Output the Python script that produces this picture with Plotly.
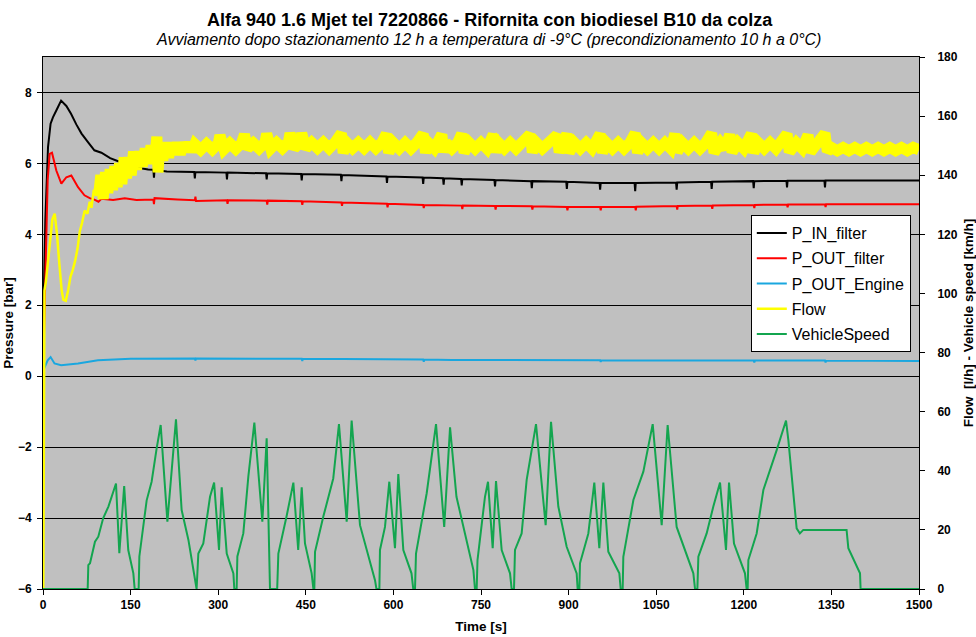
import plotly.graph_objects as go

FONT = "Liberation Sans, Arial, sans-serif"

# ---------------- data (time [s], value) ----------------
p_in_filter = [(0, 0), (1, 2.0), (4, 4.4), (8.6, 6.46), (13, 7.12), (17, 7.3), (23, 7.5), (31, 7.77),
               (40, 7.62), (48, 7.4), (57, 7.1), (66, 6.84), (77, 6.6), (88, 6.37), (100, 6.3),
               (115, 6.15), (132, 6.04), (155, 5.9), (180, 5.83), (189, 5.82), (190, 5.6), (191, 5.82),
               (212, 5.77), (259, 5.76), (260, 5.58), (261, 5.76), (314, 5.74), (315, 5.55), (316, 5.74),
               (382, 5.72), (383, 5.55), (384, 5.72), (442, 5.70), (443, 5.52), (444, 5.70),
               (510, 5.68), (511, 5.50), (512, 5.67), (588, 5.63), (589, 5.45), (590, 5.63),
               (650, 5.60), (651, 5.42), (652, 5.60), (685, 5.58), (686, 5.40), (687, 5.58),
               (716, 5.56), (717, 5.38), (718, 5.56), (773, 5.53), (774, 5.35), (775, 5.53),
               (836, 5.50), (837, 5.30), (838, 5.50), (896, 5.48), (897, 5.28), (898, 5.48),
               (953, 5.45), (954, 5.26), (955, 5.45), (1013, 5.45), (1014, 5.22), (1015, 5.45),
               (1084, 5.46), (1085, 5.26), (1086, 5.46), (1144, 5.48), (1145, 5.28), (1146, 5.48),
               (1216, 5.50), (1217, 5.30), (1218, 5.50), (1273, 5.51), (1274, 5.32), (1275, 5.51),
               (1338, 5.52), (1339, 5.32), (1340, 5.52), (1500, 5.52)]

p_out_filter = [(0, 0), (3.4, 2.5), (8, 5.52), (11.4, 6.27), (15.4, 6.3), (22.8, 5.8), (31.4, 5.43),
                (40, 5.61), (48.5, 5.66), (60, 5.33), (71, 5.1), (80, 5.02), (88, 4.98), (95, 4.92),
                (100, 5.0), (120, 4.97), (140, 5.02), (160, 4.97), (189, 4.98), (190, 4.85), (191, 5.02),
                (230, 4.98), (260, 4.96), (261, 5.06), (262, 4.94), (315, 4.96), (316, 4.86), (317, 4.96),
                (350, 4.95), (383, 4.95), (384, 4.84), (385, 4.95), (443, 4.93), (444, 4.83), (445, 4.93),
                (511, 4.90), (512, 4.80), (513, 4.90), (589, 4.86), (590, 4.76), (591, 4.86),
                (651, 4.83), (652, 4.74), (653, 4.83), (717, 4.81), (718, 4.71), (719, 4.81),
                (774, 4.80), (775, 4.70), (776, 4.80), (837, 4.79), (838, 4.70), (839, 4.79),
                (897, 4.77), (898, 4.68), (899, 4.77), (954, 4.77), (955, 4.68), (956, 4.77),
                (1014, 4.78), (1015, 4.68), (1016, 4.78), (1085, 4.80), (1086, 4.70), (1087, 4.80),
                (1145, 4.81), (1146, 4.72), (1147, 4.81), (1217, 4.83), (1218, 4.74), (1219, 4.83),
                (1274, 4.84), (1275, 4.76), (1276, 4.84), (1339, 4.85), (1340, 4.77), (1341, 4.85),
                (1500, 4.85)]

p_out_engine = [(0, 0), (1.5, 0.2), (8, 0.45), (13, 0.54), (19.7, 0.36), (31, 0.31), (60, 0.36),
                (94, 0.45), (150, 0.49), (260, 0.5), (261, 0.44), (262, 0.5), (443, 0.49), (444, 0.43),
                (445, 0.49), (500, 0.48), (651, 0.47), (652, 0.41), (653, 0.47), (700, 0.46),
                (900, 0.45), (954, 0.45), (955, 0.40), (956, 0.45), (1100, 0.44), (1217, 0.44),
                (1218, 0.39), (1219, 0.44), (1300, 0.44), (1339, 0.44), (1340, 0.39), (1341, 0.44),
                (1500, 0.43)]

flow_start = [(0.5, 0), (2.5, 101), (5, 104), (8, 110), (12, 119), (16, 125), (20, 127), (24, 120),
              (28, 110), (32, 101), (35, 97.8), (39, 97.5), (43, 101), (47, 105.6), (51, 108),
              (55, 111), (59, 115), (63, 121), (67, 124), (71.3, 128), (76, 127), (80, 131),
              (83, 129), (87, 135), (91, 133), (95, 137)]

flow_band = [(95, 133), (99, 140), (103, 132), (107, 141), (111, 134), (115, 142), (119, 135), (123, 143),
             (127, 136), (131, 144), (135, 137), (139, 146), (143, 139), (147, 146), (151, 140), (155, 148),
             (160, 142), (165, 148), (170, 143), (175, 149), (180, 144), (185, 150), (190, 144), (195, 153),
             (197, 141), (200, 150), (205, 145), (210, 151), (215, 146), (220, 151), (225, 147), (230, 151),
             (235, 147), (240, 151), (245, 148), (250, 151), (255, 148), (260, 150.5),
             (270, 148.6), (280, 150.6), (290, 148.7), (300, 150.7), (303, 153.5), (310, 148.8),
             (320, 150.8), (330, 148.9), (340, 150.9), (345, 153.8), (350, 149.0), (360, 150.9),
             (370, 149.0), (380, 151.0), (383, 154.0), (390, 149.0), (400, 151.0), (410, 149.1),
             (420, 151.1), (423, 154.2), (430, 149.1), (440, 151.1), (443, 154.2), (450, 149.1),
             (460, 151.1), (470, 149.2), (480, 151.1), (490, 149.1), (500, 151.1), (511, 154.2),
             (514, 147.5), (520, 151.1), (530, 149.1), (540, 151.0), (550, 149.1), (560, 151.1),
             (570, 149.1), (580, 151.0), (588, 154.0), (592, 147.6), (600, 151.0), (610, 149.0),
             (620, 151.0), (630, 149.0), (640, 151.0), (651, 154.0), (655, 147.6), (660, 151.0),
             (670, 149.0), (683, 153.8), (686, 147.8), (690, 151.0), (700, 149.0), (710, 151.0),
             (717, 154.0), (721, 147.6), (730, 151.0), (740, 149.0), (750, 151.0), (760, 149.0),
             (771, 153.8), (775, 147.8), (780, 151.0), (790, 149.0), (800, 151.0), (810, 149.0),
             (820, 151.0), (834, 153.8), (838, 147.8), (845, 151.0), (855, 149.0), (865, 151.0),
             (880, 153.6), (884, 147.8), (890, 151.0), (897, 154.0), (901, 147.6), (910, 151.0),
             (920, 149.0), (930, 151.0), (940, 149.0), (954, 154.0), (958, 147.6), (965, 151.0),
             (975, 149.0), (985, 151.0), (995, 149.0), (1005, 151.0), (1014, 154.2), (1018, 147.6),
             (1025, 151.0), (1035, 149.0), (1045, 151.0), (1055, 149.0), (1065, 151.0), (1075, 149.0),
             (1082, 154.0), (1086, 147.8), (1095, 151.0), (1105, 149.0), (1115, 151.0), (1125, 149.0),
             (1135, 151.0), (1145, 154.2), (1149, 147.6), (1160, 151.0), (1168, 149.0), (1176, 153.8),
             (1180, 147.8), (1190, 151.0), (1200, 149.0), (1213, 154.0), (1217, 147.6), (1225, 151.0),
             (1235, 149.0), (1245, 151.0), (1255, 149.0), (1265, 151.0), (1274, 154.0), (1278, 147.8),
             (1290, 151.0), (1300, 149.0), (1310, 153.6), (1314, 147.8), (1325, 151.0), (1339, 154.2),
             (1343, 148.0), (1350, 149.4), (1360, 148.3), (1370, 149.4), (1380, 148.3), (1390, 149.4),
             (1400, 148.3), (1410, 149.4), (1420, 148.3), (1430, 149.4), (1440, 148.3), (1450, 149.4),
             (1460, 148.3), (1470, 149.4), (1480, 148.3), (1490, 149.4), (1500, 148.6)]

vehicle_speed = [(0, 0), (76.5, 0), (77.6, 8.1), (80.5, 8.7), (89, 16), (94.7, 17.7), (103, 23.9),
                 (112, 27.9), (125, 35.7), (130.7, 12.1), (139, 34.8), (146, 13.2), (154.7, 5.3), (157, 0),
                 (163.8, 0), (165, 11), (177.5, 30), (186, 36.3), (194.6, 47.6), (201.5, 55.5), (213, 22.8),
                 (227.7, 57.4), (237.4, 26.7), (249, 16.6), (263, 0), (266, 12), (274.5, 15.4), (286, 31.2),
                 (293, 36), (301.4, 13.2), (306, 34.4), (314.6, 12), (326, 5.3), (327.6, 0), (331.6, 0),
                 (332.8, 11), (343, 18.8), (351.6, 38), (361.9, 56.3), (375.6, 22.8), (383, 51), (388.7, 0),
                 (401, 0), (403, 12), (417, 24.5), (428.7, 36), (437, 13.2), (443, 34.4), (448.6, 15.4),
                 (460, 5.3), (463, 0), (464.6, 0), (465.8, 12.6), (480, 24.5), (497, 37.4), (506.8, 55.8),
                 (520, 22.8), (528.5, 57), (542.8, 21.6), (568.5, 3), (571, 0), (576, 0), (577, 13.2),
                 (585.6, 21), (593, 36.3), (602.7, 13.8), (608.4, 38.9), (617, 13.2), (631, 5.3), (634, 0),
                 (637, 0), (638.7, 12), (657, 32.4), (673, 55.8), (687, 21), (697, 54.7), (708, 31.2),
                 (737, 6.4), (739.7, 0), (742.6, 0), (744, 9.8), (756.8, 31.2), (762, 36.3), (770, 13.8),
                 (775.7, 36.5), (785.4, 13.2), (799.7, 5.3), (802.5, 0), (806.5, 0), (808.2, 13.2),
                 (819.6, 18.8), (828.2, 36.9), (844.2, 55.8), (860.7, 21.6), (869.9, 56.6), (882.4, 27.9),
                 (896.7, 14.3), (913.8, 5.3), (915.5, 0), (918.4, 0), (919.5, 8.7), (933.8, 18.8),
                 (944, 36), (952.6, 13.8), (959.5, 36), (968, 12.6), (986.9, 5.3), (989.2, 0), (992.6, 0),
                 (993.7, 10.9), (1010.9, 30.1), (1028, 39.7), (1044, 55.8), (1059.4, 21.6), (1069.6, 55.5),
                 (1085, 21), (1113.6, 5.3), (1116.5, 0), (1120.5, 0), (1122.2, 10.9), (1136.4, 18.8),
                 (1147.8, 27.9), (1159.3, 36), (1169.5, 13.2), (1174.7, 36), (1183.2, 15.4), (1202, 5.3),
                 (1204.9, 0), (1206.6, 0), (1207.8, 9.8), (1222, 18.8), (1233.5, 33.5), (1256.3, 47),
                 (1267.7, 54.4), (1272.3, 57), (1276.3, 50.4), (1290.5, 20.5), (1296, 18.8), (1301.9, 20),
                 (1376, 20), (1379, 13.8), (1399, 5.3), (1400, 0), (1500, 0)]

x_ticks = [0, 150, 300, 450, 600, 750, 900, 1050, 1200, 1350, 1500]
left_ticks = [-6, -4, -2, 0, 2, 4, 6, 8]
right_ticks = [0, 20, 40, 60, 80, 100, 120, 140, 160, 180]


def xy(pts):
    return [p[0] for p in pts], [p[1] for p in pts]


fig = go.Figure()


def add(pts, name, color, width, yaxis, group, showlegend=True):
    x, y = xy(pts)
    fig.add_trace(go.Scatter(x=x, y=y, mode="lines", name=name, yaxis=yaxis,
                             legendgroup=group, showlegend=showlegend,
                             line=dict(color=color, width=width), hoverinfo="skip"))


add(p_in_filter, "P_IN_filter", "#000000", 2, "y", "g1")
add(p_out_filter, "P_OUT_filter", "#FF0000", 2, "y", "g2")
add(p_out_engine, "P_OUT_Engine", "#1AA7DF", 2, "y", "g3")
add(flow_start, "Flow", "#FFFF00", 2.5, "y2", "g4")
add(flow_band, "Flow", "#FFFF00", 11, "y2", "g4", showlegend=False)
add(vehicle_speed, "VehicleSpeed", "#13A54F", 2, "y2", "g5")

tickfont = dict(family=FONT, size=12, color="black", weight="bold")
titlefont = dict(family=FONT, size=13.5, color="black", weight="bold")

fig.update_layout(
    width=976, height=637, autosize=False,
    margin=dict(l=43, r=57, t=57, b=48, pad=0),
    paper_bgcolor="white", plot_bgcolor="#C0C0C0",
    font=dict(family=FONT, color="black"),
    xaxis=dict(range=[0, 1500], tickmode="array", tickvals=x_ticks, showgrid=False, zeroline=False,
               showline=True, linecolor="black", linewidth=1, mirror=True, automargin=False,
               ticks="outside", ticklen=5, tickcolor="black", tickfont=tickfont,
               title=dict(text="Time [s]", font=titlefont, standoff=10)),
    yaxis=dict(range=[-6, 9], tickmode="array", tickvals=left_ticks, showgrid=True, gridcolor="black",
               gridwidth=1, zeroline=False, showline=True, linecolor="black", linewidth=1, automargin=False,
               ticks="outside", ticklen=5, tickcolor="black", tickfont=tickfont, ticklabelstandoff=3,
               title=dict(text="Pressure [bar]", font=titlefont, standoff=1)),
    yaxis2=dict(range=[0, 180], tickmode="array", tickvals=right_ticks, overlaying="y", side="right",
                showgrid=False, zeroline=False, showline=True, linecolor="black", linewidth=1,
                automargin=False, ticks="outside", ticklen=5, tickcolor="black", tickfont=tickfont,
                ticklabelstandoff=10,
                title=dict(text="Flow\u00a0 [l/h] - Vehicle speed [km/h]", font=titlefont, standoff=8)),
    legend=dict(x=0.808, y=0.703, xanchor="left", yanchor="top", bgcolor="white",
                bordercolor="black", borderwidth=1, font=dict(family=FONT, size=16, color="black"),
                tracegroupgap=1.5, itemclick=False),
    showlegend=True,
    annotations=[
        dict(text="<b>Alfa 940 1.6 Mjet tel 7220866 - Rifornita con biodiesel B10 da colza</b>",
             xref="paper", yref="paper", x=0.51, y=1.0695, xanchor="center", yanchor="middle",
             showarrow=False, font=dict(family=FONT, size=18, color="black")),
        dict(text="<i>Avviamento dopo stazionamento 12 h a temperatura di -9°C (precondizionamento 10 h a 0°C)</i>",
             xref="paper", yref="paper", x=0.508, y=1.032, xanchor="center", yanchor="middle",
             showarrow=False, font=dict(family=FONT, size=16, color="black")),
    ],
)

fig.write_html("out.html")
